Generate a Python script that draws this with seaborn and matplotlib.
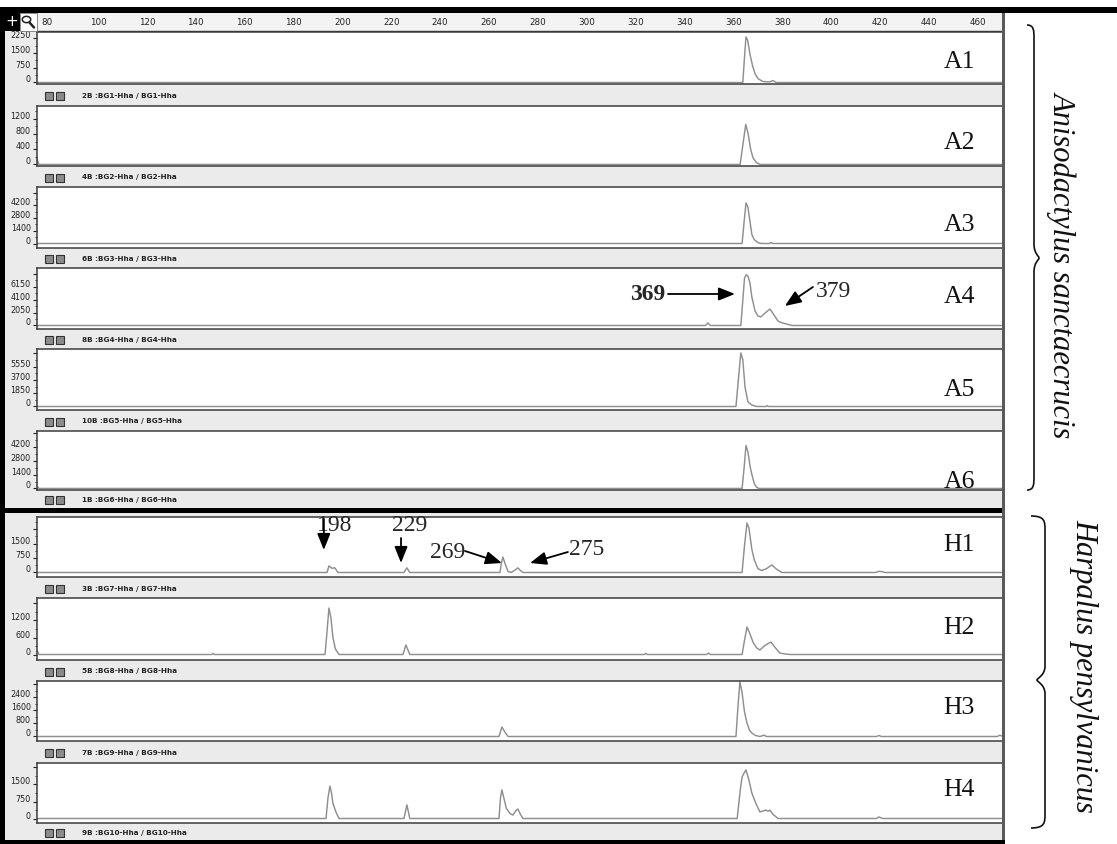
import matplotlib
matplotlib.use('Agg')
import matplotlib.pyplot as plt
import pandas as pd
import seaborn as sns
from matplotlib.patches import Rectangle, Circle, PathPatch
from matplotlib.path import Path
from matplotlib.ticker import MultipleLocator

W, H = 1117, 844

# ---- values: fragment size (bp) and peak height (RFU) ----
panel_names = ['A1', 'A2', 'A3', 'A4', 'A5', 'A6', 'H1', 'H2', 'H3', 'H4']
strip_labels = ['2B :BG1-Hha / BG1-Hha', '4B :BG2-Hha / BG2-Hha', '6B :BG3-Hha / BG3-Hha',
                '8B :BG4-Hha / BG4-Hha', '10B :BG5-Hha / BG5-Hha', '1B :BG6-Hha / BG6-Hha',
                '3B :BG7-Hha / BG7-Hha', '5B :BG8-Hha / BG8-Hha', '7B :BG9-Hha / BG9-Hha',
                '9B :BG10-Hha / BG10-Hha']
ytick_step = [750, 400, 1400, 2050, 1850, 1400, 750, 600, 800, 750]
ytick_last = [2250, 1200, 4200, 6150, 5550, 4200, 1500, 1200, 2400, 1500]
y_limits = [(-77, 2582), (-40, 1533), (-497, 6244), (-552, 9068), (-486, 7980),
            (-158, 5828), (-233, 2871), (-194, 1994), (-277, 3415), (-198, 2448)]
size_range = (78.4, 473.8)
ruler_ticks = list(range(80, 461, 20))

a1_size = [78.4, 367.3, 368.0, 368.6, 369.3, 370.3, 371.3, 372.3, 373.5, 375.5, 378.3, 379.6, 381.0, 473.8]
a1_rfu = [0, 0, 1300, 2330, 2150, 1400, 850, 450, 200, 50, 30, 100, 0, 0]

a2_size = [78.4, 79.2, 366.2, 367.3, 368.5, 369.5, 370.5, 371.5, 373.0, 374.5, 473.8]
a2_rfu = [150, 0, 0, 500, 1050, 800, 400, 170, 40, 0, 0]

a3_size = [78.4, 367.0, 367.8, 368.6, 369.4, 370.3, 371.0, 372.0, 373.5, 375.0, 378.3, 378.8, 379.5, 473.8]
a3_rfu = [0, 0, 2300, 4480, 4000, 2300, 1000, 420, 100, 0, 0, 120, 0, 0]

a4_size = [78.4, 352.0, 353.0, 354.0, 366.5, 367.3, 368.0, 368.7, 369.4, 370.2, 371.0, 372.3, 373.5,
           374.7, 376.5, 378.4, 380.0, 381.7, 383.5, 385.5, 387.5, 473.8]
a4_rfu = [0, 0, 400, 0, 0, 4000, 7500, 8000, 7800, 6800, 4500, 2300, 1500,
          1350, 2000, 2600, 1700, 700, 400, 200, 0, 0]

a5_size = [78.4, 364.5, 365.5, 366.5, 367.3, 368.2, 369.4, 371.0, 373.0, 376.8, 377.2, 377.8, 473.8]
a5_rfu = [0, 0, 3800, 7430, 6500, 2700, 650, 200, 0, 0, 120, 0, 0]

a6_size = [78.4, 79.2, 367.0, 367.8, 368.6, 369.4, 370.3, 371.0, 372.0, 373.0, 374.0, 473.8]
a6_rfu = [200, 0, 0, 2000, 4360, 3700, 2200, 1420, 500, 100, 0, 0]

h1_size = [78.4, 197.1, 197.9, 199.1, 200.3, 201.6, 228.6, 229.8, 231.0, 267.9, 268.5, 269.1,
           270.0, 271.2, 272.5, 274.0, 275.2, 276.3, 277.3, 367.0, 368.0, 369.0, 369.8, 371.0,
           372.0, 373.5, 375.0, 377.0, 379.2, 381.0, 383.3, 421.5, 423.0, 424.5, 425.5, 473.8]
h1_rfu = [0, 0, 340, 220, 240, 0, 0, 240, 0, 0, 500, 800,
          450, 50, 0, 120, 240, 100, 0, 0, 1400, 2560, 2300, 1200,
          650, 200, 100, 200, 390, 180, 0, 0, 60, 40, 0, 0]

h2_size = [78.4, 79.2, 150.0, 150.5, 151.0, 196.3, 197.1, 197.9, 198.7, 199.5, 200.5, 202.0,
           228.2, 229.4, 231.0, 327.0, 327.6, 328.2, 352.5, 353.3, 354.0, 367.0, 368.0, 369.0,
           370.0, 371.5, 373.0, 374.3, 376.5, 378.8, 380.5, 382.5, 384.5, 386.6, 473.8]
h2_rfu = [150, 0, 0, 40, 0, 0, 800, 1640, 1300, 620, 200, 0,
          0, 335, 0, 0, 40, 0, 0, 50, 0, 0, 500, 970,
          780, 430, 230, 160, 330, 440, 250, 50, 20, 0, 0]

h3_size = [78.4, 267.5, 268.7, 270.0, 271.2, 364.5, 365.3, 366.1, 367.0, 368.0, 369.0, 370.0,
           371.0, 372.5, 374.3, 376.0, 377.0, 422.0, 423.0, 424.0, 471.5, 472.5, 473.8]
h3_rfu = [0, 0, 585, 250, 0, 0, 1800, 3380, 2700, 1500, 830, 400,
          215, 60, 0, 80, 0, 0, 60, 0, 0, 80, 0]

h4_size = [78.4, 196.7, 197.5, 198.3, 199.0, 199.5, 200.7, 202.0, 228.6, 229.8, 231.0, 267.5,
           268.1, 268.7, 269.5, 270.5, 272.0, 273.2, 274.3, 275.2, 276.2, 277.3, 365.0, 366.3,
           367.0, 367.8, 368.6, 369.8, 371.0, 372.5, 374.3, 375.6, 376.8, 377.6, 378.4, 379.5,
           381.7, 422.0, 423.0, 424.5, 473.8]
h4_rfu = [0, 0, 900, 1430, 1100, 680, 300, 0, 0, 600, 0, 0,
          900, 1260, 900, 450, 220, 150, 330, 420, 200, 0, 0, 1300,
          1830, 2000, 2140, 1700, 1125, 700, 290, 330, 375, 320, 370, 200,
          0, 0, 70, 0, 0]

traces = [(a1_size, a1_rfu), (a2_size, a2_rfu), (a3_size, a3_rfu), (a4_size, a4_rfu),
          (a5_size, a5_rfu), (a6_size, a6_rfu), (h1_size, h1_rfu), (h2_size, h2_rfu),
          (h3_size, h3_rfu), (h4_size, h4_rfu)]

# ---- page layout in pixels ----
box_top = [32, 106, 187, 268, 349, 431, 517, 598, 681, 763]
box_bot = [84, 166, 248, 329, 410, 490, 577, 660, 741, 823]
strip_bot = [106, 187, 268, 349, 431, 508, 598, 681, 763, 840]
label_y = [62, 143, 225, 297, 390, 482, 545, 628, 708, 790]
box_x0, box_x1 = 37, 1003


def fx(x):
    return x / W


def fy(y):
    return 1 - y / H


def px_axes(x0, y0, x1, y1, **kw):
    return fig.add_axes([fx(x0), fy(y1), (x1 - x0) / W, (y1 - y0) / H], **kw)


sns.set_style('white')
plt.rcParams['font.family'] = ['DejaVu Sans']
SERIF = ['Liberation Serif', 'DejaVu Serif']

fig = plt.figure(figsize=(W / 100, H / 100), dpi=100)
fig.patch.set_facecolor('white')


def frect(x0, y0, x1, y1, **kw):
    fig.patches.append(Rectangle((fx(x0), fy(y1)), (x1 - x0) / W, (y1 - y0) / H,
                                 transform=fig.transFigure, **kw))


# window background and black frame
frect(0, 7, 1005, 844, facecolor='#ebebeb', edgecolor='none', zorder=-5)
frect(0, 7, 1117, 13, facecolor='black', edgecolor='none', zorder=5)
frect(0, 7, 5, 844, facecolor='black', edgecolor='none', zorder=5)
frect(0, 840, 1005, 844, facecolor='black', edgecolor='none', zorder=5)
frect(0, 508, 1005, 513, facecolor='black', edgecolor='none', zorder=5)
frect(1002, 13, 1005, 840, facecolor='#5a5a5a', edgecolor='none', zorder=5)

# toolbar icons
frect(5, 13, 20, 31, facecolor='black', edgecolor='none', zorder=5)
frect(20, 13, 37, 31, facecolor='white', edgecolor='#777777', linewidth=0.6, zorder=5)
fig.text(fx(11.5), fy(21.5), '+', color='white', fontsize=11, ha='center', va='center',
         zorder=6)
fig.patches.append(Circle((fx(26.5), fy(19.5)), 4.2 / W, transform=fig.transFigure,
                          facecolor='none', edgecolor='#222222', linewidth=1.1, zorder=6))
fig.lines.append(plt.Line2D([fx(29.5), fx(34)], [fy(22.5), fy(27.5)], transform=fig.transFigure,
                            color='#222222', linewidth=1.8, zorder=6))

# size ruler
ruler = px_axes(box_x0, 13, box_x1, 31)
ruler.set_facecolor('#f3f3f3')
ruler.set_xlim(*size_range)
ruler.set_ylim(0, 1)
ruler.set_yticks([])
ruler.set_xticks(ruler_ticks)
ruler.set_xticklabels([str(t) for t in ruler_ticks])
ruler.xaxis.set_minor_locator(MultipleLocator(10))
ruler.tick_params(axis='x', which='major', direction='in', length=3.5, width=0.8,
                  pad=-9.5, labelsize=6.3, colors='#222222')
ruler.tick_params(axis='x', which='minor', direction='in', length=1.5, width=0.7)
for lab in ruler.get_xticklabels():
    lab.set_ha('left')
for side in ['top', 'left', 'right']:
    ruler.spines[side].set_visible(False)
ruler.spines['bottom'].set_color('#333333')
ruler.spines['bottom'].set_linewidth(1.0)

axes = []
for i, name in enumerate(panel_names):
    ax = px_axes(box_x0, box_top[i], box_x1, box_bot[i])
    ax.set_facecolor('white')
    size, rfu = traces[i]
    df = pd.DataFrame({'size': size, 'rfu': rfu})
    sns.lineplot(data=df, x='size', y='rfu', ax=ax, color='#8f8f8f', linewidth=1.05,
                 estimator=None, sort=False)
    ax.set_xlim(*size_range)
    lo, hi = y_limits[i]
    ax.set_ylim(lo, hi)
    step = ytick_step[i]
    ticks = [k * step for k in range(int(hi // step) + 1)]
    ax.set_yticks(ticks)
    ax.set_yticklabels([str(t) if t <= ytick_last[i] else '' for t in ticks])
    ax.yaxis.set_minor_locator(MultipleLocator(step / 2))
    ax.tick_params(axis='y', which='major', left=True, length=3, width=0.8, pad=1.5,
                   labelsize=5.8, colors='#222222')
    ax.tick_params(axis='y', which='minor', left=True, length=1.5, width=0.6)
    for lab in ax.get_yticklabels():
        lab.set_va('baseline')
    ax.set_xticks([])
    ax.set_xlabel('')
    ax.set_ylabel('')
    for sp in ax.spines.values():
        sp.set_color('#3c3c3c')
        sp.set_linewidth(1.1)
    axes.append(ax)

    # strip below each panel
    ymid = (box_bot[i] + strip_bot[i]) / 2 + 1
    for sx in (45, 56):
        frect(sx, ymid - 4, sx + 8, ymid + 4, facecolor='#8c8c8c', edgecolor='#333333',
              linewidth=0.8, zorder=3)
    fig.text(fx(82), fy(ymid), strip_labels[i], fontsize=5.2, color='#222222',
             ha='left', va='center', fontweight='bold')

    fig.text(fx(959), fy(label_y[i]), name, family=SERIF, fontsize=18.5,
             ha='center', va='center', color='#111111')

# peak call-outs
arrow_kw = dict(arrowstyle='-|>,head_length=0.55,head_width=0.22', color='black',
                lw=1.3, mutation_scale=18, shrinkA=0, shrinkB=0)


def callout(ax, text, tx, ty, tail, head, bold=False):
    ax.text(tx, ty, text, family=SERIF, fontsize=17, ha='center', va='center',
            fontweight='bold' if bold else 'normal', clip_on=False, zorder=6)
    ax.annotate('', xy=head, xytext=tail, arrowprops=arrow_kw, annotation_clip=False,
                zorder=6)


a4 = axes[3]
callout(a4, '369', 328.5, 4810, (336.7, 4970), (364.1, 4970), bold=True)
callout(a4, '379', 404.5, 5440, (396.0, 6070), (384.5, 3075))

h1 = axes[6]
callout(h1, '198', 200.1, 2457, (195.8, 2768), (195.8, 1164))
callout(h1, '229', 231.0, 2457, (227.4, 1785), (227.4, 491))
callout(h1, '269', 246.6, 1060, (253.6, 1112), (268.7, 491))
callout(h1, '275', 303.5, 1164, (295.7, 1060), (280.2, 491))


# braces and species names
def brace(xe, xm, xc, y0, yc, y1, r=14):
    verts = [(xe, y0), (xm, y0), (xm, y0 + r * 0.4), (xm, y0 + r),
             (xm, yc - r),
             (xm, yc - r * 0.3), (xc, yc - 2), (xc, yc),
             (xc, yc + 2), (xm, yc + r * 0.3), (xm, yc + r),
             (xm, y1 - r),
             (xm, y1 - r * 0.4), (xm, y1), (xe, y1)]
    codes = [Path.MOVETO, Path.CURVE4, Path.CURVE4, Path.CURVE4, Path.LINETO,
             Path.CURVE4, Path.CURVE4, Path.CURVE4, Path.CURVE4, Path.CURVE4, Path.CURVE4,
             Path.LINETO, Path.CURVE4, Path.CURVE4, Path.CURVE4]
    path = Path([(fx(x), fy(y)) for x, y in verts], codes)
    fig.patches.append(PathPatch(path, transform=fig.transFigure, facecolor='none',
                                 edgecolor='#111111', linewidth=1.2, zorder=6))


brace(1027, 1034, 1039, 25, 258, 490)
brace(1031, 1045, 1037, 516, 680, 828)

fig.text(fx(1062), fy(264), 'Anisodactylus sanctaecrucis', family=SERIF, style='italic',
         fontsize=22, rotation=270, ha='center', va='center', color='#111111')
fig.text(fx(1084), fy(666), 'Harpalus pensylvanicus', family=SERIF, style='italic',
         fontsize=22, rotation=270, ha='center', va='center', color='#111111')

fig.savefig('out.png', dpi=100)
